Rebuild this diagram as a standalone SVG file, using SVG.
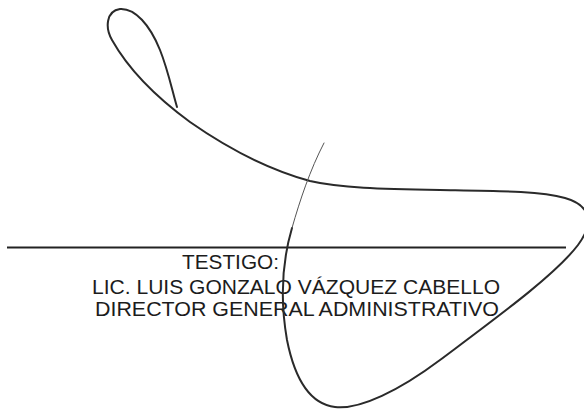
<svg xmlns="http://www.w3.org/2000/svg" width="584" height="409" viewBox="0 0 584 409">
<style>
.t{font-family:"Liberation Sans",Arial,sans-serif;font-size:19.5px;fill:#1c1c1c}
.sig{fill:none;stroke:#2a2a2a;stroke-width:2;stroke-linecap:round;stroke-linejoin:round}
</style>
<rect width="584" height="409" fill="#ffffff"/>
<g id="signature-line">
<line x1="7" y1="247.5" x2="566" y2="247.5" stroke="#222" stroke-width="1.8"/>
</g>
<g id="labels">
<text class="t" x="182" y="269" textLength="97" lengthAdjust="spacingAndGlyphs">TESTIGO:</text>
<text class="t" x="92" y="294" textLength="408" lengthAdjust="spacingAndGlyphs">LIC. LUIS GONZALO VÁZQUEZ CABELLO</text>
<text class="t" x="95" y="315.5" textLength="404" lengthAdjust="spacingAndGlyphs">DIRECTOR GENERAL ADMINISTRATIVO</text>
</g>
<g id="signature">
<path class="sig" d="M177,107 C172,90 168,70 160,50 C150,25 135,8 120,9 C106,11 105,28 112,40 C130,72 160,100 190,122 C230,150 270,170 310,181 C340,188 380,189 440,190 C500,191 540,191 565,198 C590,205 595,222 578,245 C555,275 500,315 440,360 C400,390 360,410 335,407 C310,404 295,380 287,340 C280,300 282,262 292,228"/>
<path fill="none" stroke="#555" stroke-width="1" stroke-linecap="round" d="M292,228 C300,200 310,170 324,143"/>
</g>
</svg>
